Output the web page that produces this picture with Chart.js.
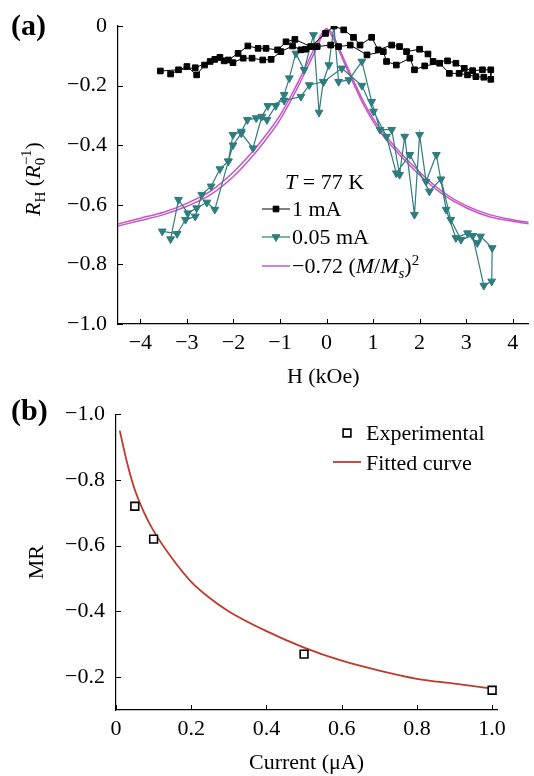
<!DOCTYPE html>
<html>
<head>
<meta charset="utf-8">
<script src="https://cdn.jsdelivr.net/npm/chart.js@4/dist/chart.umd.min.js"></script>
<style>
body { margin: 0; background: #fff; }
#page { position: relative; width: 534px; height: 776px; font-family: "Liberation Serif", serif; color: #000; overflow: hidden; }
.box { position: absolute; left: 0; width: 534px; }
.txt { position: absolute; font-size: 22px; line-height: 1; white-space: nowrap; transform: translateY(-50%); }
.panel { font-weight: bold; font-size: 30px; }
.rot { transform: translate(-50%, -50%) rotate(-90deg); }
sub, sup { font-size: 15px; line-height: 0; }
.ss { display: inline-flex; flex-direction: column; font-size: 15px; line-height: 14px; vertical-align: 9px; }
</style>
</head>
<body>
<div id="page">
  <div class="box" style="top:0;height:390px"><canvas id="chartA"></canvas></div>
  <div class="box" style="top:390px;height:386px"><canvas id="chartB"></canvas></div>

  <div class="txt panel" style="left:11px;top:25px">(a)</div>
  <div class="txt panel" style="left:11px;top:410px">(b)</div>

  <div class="txt rot" style="left:33px;top:179px"><i>R</i><sub>H</sub> (<i>R</i><span class="ss"><span>−1</span><span>0</span></span>)</div>

  <div class="txt" style="left:285px;top:182px"><i>T</i> = 77 K</div>
  <div class="txt" style="left:292px;top:209px">1 mA</div>
  <div class="txt" style="left:292px;top:237px">0.05 mA</div>
  <div class="txt" style="left:292px;top:266px">−0.72 (<i>M</i>/<i>M<sub>s</sub></i>)<sup>2</sup></div>

  <div class="txt" style="left:366px;top:433px">Experimental</div>
  <div class="txt" style="left:366px;top:463px">Fitted curve</div>
</div>
<script>
// ---- panel (a): R_H vs H ----
// 1 mA, field sweep up then back down
var h1mA = [-3.57, -3.18, -2.82, -2.50, -2.29, -2.11, -1.90, -1.69, -1.47, -1.30, -1.05, -0.87, -0.68, -0.34, -0.02, 0.16, 0.37, 0.58, 0.72, 0.97, 1.11, 1.40, 1.57, 1.72, 2.00, 2.18, 2.29, 2.60, 2.78, 2.96, 3.14, 3.35, 3.53,
    3.53, 3.38, 3.21, 3.03, 2.85, 2.64, 2.43, 2.11, 1.89, 1.79, 1.50, 1.29, 1.22, 0.87, 0.51, 0.26, 0.09, -0.20, -0.45, -0.55, -0.73, -0.98, -1.19, -1.37, -1.60, -1.79, -2.01, -2.20, -2.40, -2.62, -2.79, -3.00, -3.35]
var rh1mA = [-0.151, -0.147, -0.140, -0.119, -0.105, -0.114, -0.092, -0.067, -0.075, -0.075, -0.080, -0.053, -0.045, -0.069, -0.025, 0.000, -0.013, -0.038, -0.064, -0.038, -0.080, -0.064, -0.069, -0.086, -0.078, -0.094, -0.119, -0.117, -0.125, -0.142, -0.150, -0.147, -0.147,
    -0.179, -0.172, -0.170, -0.164, -0.159, -0.159, -0.125, -0.134, -0.147, -0.108, -0.131, -0.119, -0.086, -0.097, -0.064, -0.069, -0.064, -0.069, -0.078, -0.080, -0.067, -0.086, -0.112, -0.114, -0.108, -0.108, -0.123, -0.117, -0.112, -0.131, -0.164, -0.136, -0.161]

// 0.05 mA
var h005 = [-3.53, -3.21, -3.03, -2.82, -2.68, -2.48, -2.29, -2.11, -2.01, -1.83, -1.70, -1.51, -1.28, -1.09, -0.91, -0.80, -0.66, -0.48, -0.28, -0.16, -0.07, 0.05, 0.16, 0.26, 0.48, 0.76, 0.97, 1.15, 1.40, 1.57, 1.68, 1.89, 2.00, 2.14, 2.36, 2.57, 2.78, 3.03, 3.24, 3.31, 3.56,
    3.55, 3.38, 3.14, 2.89, 2.67, 2.46, 2.21, 1.79, 1.50, 1.29, 1.01, 0.76, 0.33, -0.06, -0.37, -0.55, -0.91, -1.26, -1.39, -1.58, -1.83, -2.01, -2.11, -2.40, -2.57, -2.79, -2.98, -3.18, -3.35]
var rh005 = [-0.689, -0.697, -0.650, -0.639, -0.566, -0.538, -0.480, -0.454, -0.365, -0.354, -0.315, -0.309, -0.315, -0.268, -0.231, -0.175, -0.092, -0.147, -0.030, -0.290, -0.187, -0.131, 0.000, -0.187, -0.181, -0.119, -0.254, -0.348, -0.348, -0.499, -0.371, -0.633, -0.365, -0.522, -0.432, -0.616, -0.711, -0.695, -0.728, -0.706, -0.745,
    -0.857, -0.871, -0.704, -0.717, -0.650, -0.514, -0.555, -0.432, -0.494, -0.371, -0.287, -0.200, -0.142, -0.187, -0.198, -0.237, -0.250, -0.268, -0.304, -0.410, -0.360, -0.400, -0.454, -0.616, -0.592, -0.611, -0.628, -0.583, -0.715]

// -0.72 (M/Ms)^2, two branches
var hFit = [-4.5, -4, -3.5, -3, -2.5, -2, -1.5, -1.2, -1, -0.8, -0.6, -0.4, -0.2, -0.1, 0, 0.1, 0.2, 0.4, 0.6, 0.8, 1, 1.2, 1.5, 2, 2.5, 3, 3.5, 4, 4.4]
var rhFitUp = [-0.665, -0.645, -0.625, -0.595, -0.555, -0.490, -0.405, -0.345, -0.300, -0.245, -0.185, -0.120, -0.055, -0.025, -0.008, -0.030, -0.060, -0.130, -0.200, -0.265, -0.320, -0.365, -0.420, -0.500, -0.565, -0.610, -0.640, -0.655, -0.665]
var rhFitDown = [-0.672, -0.653, -0.633, -0.605, -0.567, -0.505, -0.420, -0.360, -0.315, -0.260, -0.200, -0.135, -0.070, -0.035, -0.012, -0.020, -0.050, -0.120, -0.190, -0.255, -0.310, -0.355, -0.410, -0.490, -0.557, -0.603, -0.633, -0.650, -0.660]

// ---- panel (b): MR vs current ----
var currentExp = [0.05, 0.1, 0.5, 1.0]
var mrExp = [-0.72, -0.62, -0.27, -0.16]
var currentFit = [0.01, 0.03, 0.05, 0.075, 0.1, 0.15, 0.2, 0.25, 0.3, 0.4, 0.5, 0.6, 0.7, 0.8, 0.9, 1.0]
var mrFit = [-0.95, -0.85, -0.77, -0.70, -0.645, -0.56, -0.49, -0.44, -0.40, -0.34, -0.29, -0.25, -0.22, -0.195, -0.18, -0.165]

var TEAL = '#2f7d7e'
var MAGENTA = '#c457c6'
var RED = '#c0392b'

function pts(xs, ys) {
    return xs.map(function (x, i) { return { x: x, y: ys[i] } })
}

// unicode minus for tick labels
function fmt(dec) {
    return function (v) {
        if (Math.abs(v) < 1e-9) return '0'
        var s = Math.abs(v).toFixed(dec)
        return v < 0 ? '\u2212' + s : s
    }
}

function mark(ctx, style, x, y, r, fill, stroke, lw) {
    ctx.beginPath()
    if (style == 'rect') {
        var s = r * Math.SQRT1_2
        ctx.rect(x - s, y - s, 2 * s, 2 * s)
    } else if (style == 'triangle') {
        // pointing down
        ctx.moveTo(x, y + r)
        ctx.lineTo(x - 0.866 * r, y - 0.5 * r)
        ctx.lineTo(x + 0.866 * r, y - 0.5 * r)
        ctx.closePath()
    }
    ctx.fillStyle = fill
    ctx.fill()
    ctx.lineWidth = lw
    ctx.strokeStyle = stroke
    ctx.stroke()
}

// short ticks pointing into the plot
var innerTicks = {
    id: 'innerTicks',
    afterDraw(chart) {
        var ctx = chart.ctx, a = chart.chartArea
        var sx = chart.scales.x, sy = chart.scales.y
        ctx.save()
        ctx.strokeStyle = '#000'
        ctx.lineWidth = 1
        sx.ticks.forEach(function (t) {
            var p = Math.round(sx.getPixelForValue(t.value)) + 0.5
            ctx.beginPath(); ctx.moveTo(p, a.bottom); ctx.lineTo(p, a.bottom - 5); ctx.stroke()
        })
        sy.ticks.forEach(function (t) {
            var p = Math.round(sy.getPixelForValue(t.value)) + 0.5
            ctx.beginPath(); ctx.moveTo(a.left, p); ctx.lineTo(a.left + 5, p); ctx.stroke()
        })
        ctx.restore()
    }
}

// legend symbols, text is in the html
var legendMarks = {
    id: 'legendMarks',
    afterDraw(chart, args, opts) {
        var ctx = chart.ctx
        ctx.save()
        opts.items.forEach(function (it) {
            var ds = chart.data.datasets[it.dataset]
            if (it.line) {
                ctx.strokeStyle = ds.borderColor
                ctx.lineWidth = ds.borderWidth
                ctx.beginPath(); ctx.moveTo(it.x - 14, it.y); ctx.lineTo(it.x + 14, it.y); ctx.stroke()
            }
            if (ds.pointRadius > 0) {
                mark(ctx, ds.pointStyle, it.x, it.y, ds.pointRadius, ds.pointBackgroundColor, ds.pointBorderColor, ds.pointBorderWidth)
            }
        })
        ctx.restore()
    }
}

Chart.defaults.font.family = '"Liberation Serif", serif'
Chart.defaults.font.size = 22
Chart.defaults.color = '#000'

function axis(extra) {
    var base = {
        type: 'linear',
        grid: { display: false, drawTicks: false },
        border: { display: true, color: '#000', width: 1.2 },
        ticks: { includeBounds: false, color: '#000', font: { size: 22 } }
    }
    for (var k in extra) {
        if (typeof extra[k] == 'object' && base[k] && !Array.isArray(extra[k])) base[k] = Object.assign({}, base[k], extra[k])
        else base[k] = extra[k]
    }
    return base
}

var chartA = new Chart(document.getElementById('chartA'), {
    type: 'scatter',
    data: {
        datasets: [
            { label: '1 mA', data: pts(h1mA, rh1mA), showLine: true, borderColor: '#000', borderWidth: 1, pointStyle: 'rect', pointRadius: 4, pointBackgroundColor: '#000', pointBorderColor: '#000', pointBorderWidth: 1, tension: 0 },
            { label: '0.05 mA', data: pts(h005, rh005), showLine: true, borderColor: TEAL, borderWidth: 1.2, pointStyle: 'triangle', pointRotation: 180, pointRadius: 4.5, pointBackgroundColor: TEAL, pointBorderColor: TEAL, pointBorderWidth: 1, tension: 0 },
            { label: 'fit', data: pts(hFit, rhFitUp), showLine: true, borderColor: MAGENTA, borderWidth: 1.5, pointRadius: 0, cubicInterpolationMode: 'monotone' },
            { label: 'fit2', data: pts(hFit, rhFitDown), showLine: true, borderColor: MAGENTA, borderWidth: 1.5, pointRadius: 0, cubicInterpolationMode: 'monotone' }
        ]
    },
    options: {
        responsive: true,
        maintainAspectRatio: false,
        animation: false,
        layout: { padding: { top: 26, right: 0, bottom: 0, left: 0 } },
        plugins: {
            legend: { display: false },
            tooltip: { enabled: false },
            legendMarks: { items: [
                { dataset: 0, x: 276, y: 209, line: true },
                { dataset: 1, x: 276, y: 237, line: true },
                { dataset: 2, x: 276, y: 266, line: true }
            ] }
        },
        scales: {
            x: axis({
                min: -4.48, max: 4.34,
                ticks: { stepSize: 1, padding: 6, callback: fmt(0) },
                title: { display: true, text: 'H (kOe)', font: { size: 22 }, padding: { top: 0, bottom: 0 } },
                afterFit: function (s) { s.height = 66 }
            }),
            y: axis({
                min: -1, max: 0,
                ticks: { stepSize: 0.2, padding: 11, callback: fmt(1) },
                afterFit: function (s) { s.width = 118 }
            })
        }
    },
    plugins: [innerTicks, legendMarks]
})

var chartB = new Chart(document.getElementById('chartB'), {
    type: 'scatter',
    data: {
        datasets: [
            { label: 'Experimental', data: pts(currentExp, mrExp), pointStyle: 'rect', pointRadius: 5.5, pointBackgroundColor: '#fff', pointBorderColor: '#000', pointBorderWidth: 1.6 },
            { label: 'Fitted curve', data: pts(currentFit, mrFit), showLine: true, borderColor: RED, borderWidth: 1.8, pointRadius: 0, cubicInterpolationMode: 'monotone' }
        ]
    },
    options: {
        responsive: true,
        maintainAspectRatio: false,
        animation: false,
        layout: { padding: { top: 21, right: 37, bottom: 0, left: 0 } },
        plugins: {
            legend: { display: false },
            tooltip: { enabled: false },
            legendMarks: { items: [
                { dataset: 0, x: 347, y: 43, line: false },
                { dataset: 1, x: 347, y: 72, line: true }
            ] }
        },
        scales: {
            x: axis({
                min: 0, max: 1.013,
                ticks: { stepSize: 0.2, padding: 6, callback: function (v) { return v == 0 ? '0' : v.toFixed(1) } },
                title: { display: true, text: 'Current (\u03bcA)', font: { size: 22 }, padding: { top: 0, bottom: 0 } },
                afterFit: function (s) { s.height = 66 }
            }),
            y: axis({
                min: -1, max: -0.1, reverse: true,
                ticks: { stepSize: 0.2, padding: 11, callback: fmt(1) },
                title: { display: true, text: 'MR', font: { size: 22 }, padding: { top: 24, bottom: 0 } },
                afterFit: function (s) { s.width = 116 }
            })
        }
    },
    plugins: [innerTicks, legendMarks]
})
</script>
</body>
</html>
